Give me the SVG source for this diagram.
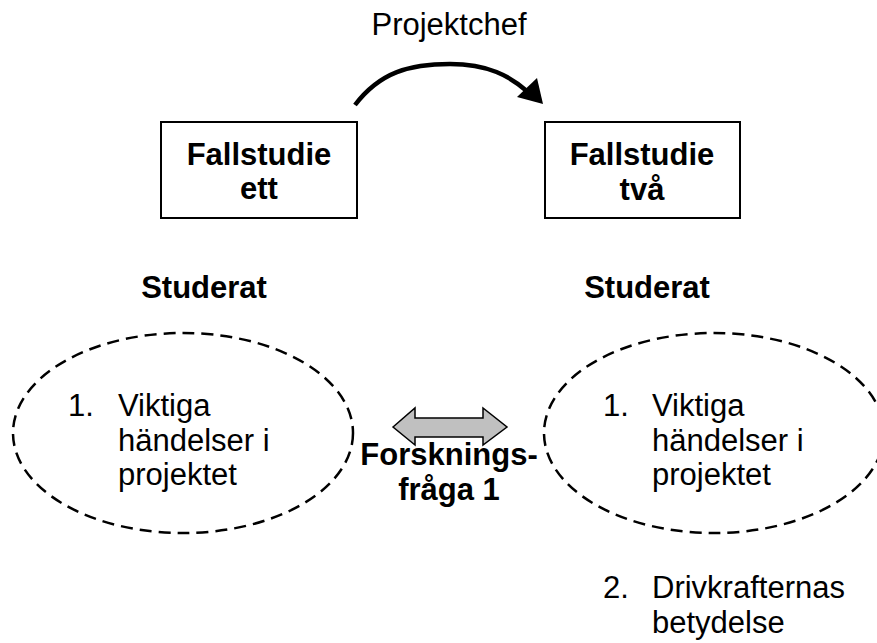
<svg xmlns="http://www.w3.org/2000/svg" width="877" height="643" viewBox="0 0 877 643">
  <style>
    text { font-family: "Liberation Sans", Arial, sans-serif; font-size: 31px; fill: #000; }
    .b { font-weight: bold; }
    .box { fill: #fff; stroke: #000; stroke-width: 2; }
    .oval { fill: none; stroke: #000; stroke-width: 2.5; stroke-dasharray: 12 7; }
  </style>
  <rect width="877" height="643" fill="#fff"/>

  <g id="connectors">
    <path d="M355,105 C380,72 410,64 450,64 C488,64 510,76 528,92" fill="none" stroke="#000" stroke-width="4.5"/>
    <polygon points="543,104 517,97 537,78" fill="#000"/>
    <polygon points="393,427 415,408 415,418 483,418 483,408 507,427 483,445 483,437 415,437 415,445" fill="#c0c0c0" stroke="#000" stroke-width="1.5" stroke-linejoin="miter"/>
  </g>

  <g id="label-projektchef">
    <text x="449" y="35" text-anchor="middle">Projektchef</text>
  </g>

  <g id="fallstudie-ett">
    <rect class="box" x="161" y="122" width="196" height="96"/>
    <text class="b" x="259" y="165" text-anchor="middle">Fallstudie</text>
    <text class="b" x="259" y="199" text-anchor="middle">ett</text>
  </g>

  <g id="fallstudie-tva">
    <rect class="box" x="545" y="122" width="195" height="96"/>
    <text class="b" x="642" y="165" text-anchor="middle">Fallstudie</text>
    <text class="b" x="642" y="200" text-anchor="middle">två</text>
  </g>

  <g id="studerat-ett">
    <text class="b" x="204" y="298" text-anchor="middle">Studerat</text>
    <ellipse class="oval" cx="183" cy="433" rx="170" ry="100"/>
    <text x="68" y="416">1.</text>
    <text x="118" y="416">Viktiga</text>
    <text x="118" y="451">händelser i</text>
    <text x="118" y="485">projektet</text>
  </g>

  <g id="studerat-tva">
    <text class="b" x="647" y="298" text-anchor="middle">Studerat</text>
    <ellipse class="oval" cx="714" cy="433" rx="170" ry="100"/>
    <text x="603" y="416">1.</text>
    <text x="652" y="416">Viktiga</text>
    <text x="652" y="451">händelser i</text>
    <text x="652" y="485">projektet</text>
    <text x="603" y="598">2.</text>
    <text x="652" y="598">Drivkrafternas</text>
    <text x="652" y="633">betydelse</text>
  </g>

  <g id="forskningsfraga">
    <text class="b" x="449" y="465" text-anchor="middle">Forsknings-</text>
    <text class="b" x="449" y="500" text-anchor="middle">fråga 1</text>
  </g>
</svg>
